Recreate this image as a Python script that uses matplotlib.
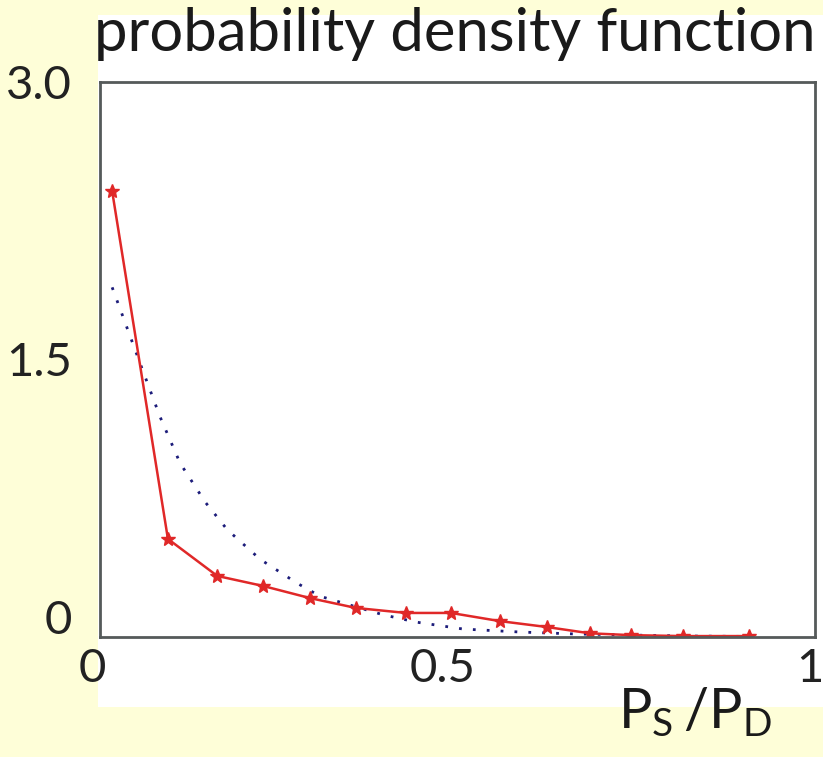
import numpy as np
import matplotlib
matplotlib.use("Agg")
import matplotlib.pyplot as plt
import matplotlib.transforms as mtransforms
from matplotlib.patches import Rectangle

# === data ===
ratio_meas = [0.017, 0.095, 0.164, 0.228, 0.294, 0.358, 0.428, 0.491,
              0.559, 0.625, 0.685, 0.743, 0.815, 0.908]
pdf_meas = [2.41, 0.53, 0.33, 0.276, 0.21, 0.157, 0.13, 0.13,
            0.086, 0.054, 0.02, 0.01, 0.005, 0.005]

ratio_fit = [0.017, 0.056, 0.084, 0.112, 0.147, 0.178, 0.224, 0.276,
             0.308, 0.396, 0.443, 0.508, 0.587, 0.66, 0.75, 0.83, 0.91]
pdf_fit = [1.89, 1.48, 1.19, 0.94, 0.73, 0.58, 0.42, 0.29,
           0.22, 0.12, 0.08, 0.043, 0.027, 0.017, 0.01, 0.005, 0.003]

x_ticks = [0, 0.5, 1]
x_ticklabels = ["0", "0.5", "1"]
y_ticks = [0, 1.5, 3.0]
y_ticklabels = ["0", "1.5", "3.0"]

plt.rcParams['font.family'] = ['Lato', 'DejaVu Sans']
plt.rcParams['mathtext.fontset'] = 'custom'
plt.rcParams['mathtext.rm'] = 'Lato'

W, H = 823, 757
fig = plt.figure(figsize=(W / 100, H / 100), dpi=100)
fig.patch.set_facecolor('#fefed8')

# white panel behind title and plot
fig.patches.append(Rectangle((98 / W, 1 - 707 / H), (W - 98) / W, (707 - 15) / H,
                             transform=fig.transFigure, facecolor='white',
                             edgecolor='none', zorder=-5))

ax = fig.add_axes([100 / W, 1 - 637 / H, 715 / W, 555 / H])
ax.set_facecolor('white')

ax.plot(ratio_fit, pdf_fit, linestyle=(0, (1, 4)), color='#1c1c7a', lw=2.0)
ax.plot(ratio_meas, pdf_meas, '-', color='#e02828', lw=1.8,
        marker='*', markersize=10, markeredgewidth=1.0)

ax.set_xlim(0, 1)
ax.set_ylim(0, 3.0)
ax.set_xticks(x_ticks)
ax.set_xticklabels(x_ticklabels)
ax.set_yticks(y_ticks)
ax.set_yticklabels(y_ticklabels)
ax.tick_params(length=0, labelsize=34, colors='#222222')
ax.tick_params(axis='x', pad=8)
ax.tick_params(axis='y', pad=20)

# the "0" on the y axis sits a bit above the bottom edge
lbl0 = ax.get_yticklabels()[0]
lbl0.set_transform(lbl0.get_transform() +
                   mtransforms.ScaledTranslation(0, 0.2, fig.dpi_scale_trans))
lblx0 = ax.get_xticklabels()[0]
lblx0.set_transform(lblx0.get_transform() +
                    mtransforms.ScaledTranslation(-0.08, 0, fig.dpi_scale_trans))
lblx5 = ax.get_xticklabels()[1]
lblx5.set_transform(lblx5.get_transform() +
                    mtransforms.ScaledTranslation(-0.15, 0, fig.dpi_scale_trans))
lblx1 = ax.get_xticklabels()[2]
lblx1.set_transform(lblx1.get_transform() +
                    mtransforms.ScaledTranslation(-0.05, 0, fig.dpi_scale_trans))

for s in ax.spines.values():
    s.set_color('#555a5a')
    s.set_linewidth(2)

fig.text(455 / W, 1 - 34 / H, "probability density function",
         ha='center', va='center', fontsize=43, color='#1a1a1a')

fig.text(695 / W, 1 - 712 / H, r"$\mathregular{P_S\,/P_D}$",
         ha='center', va='center', fontsize=40, color='#1a1a1a')

fig.savefig("out.png", dpi=100, facecolor=fig.get_facecolor())
